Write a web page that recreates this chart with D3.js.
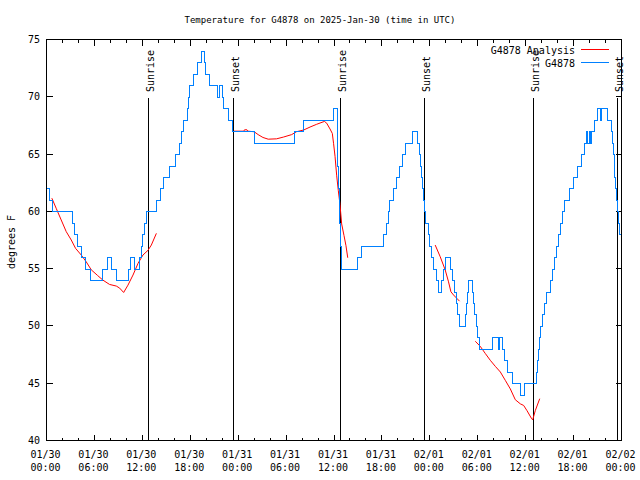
<!DOCTYPE html>
<html>
<head>
<meta charset="utf-8">
<script src="https://cdn.jsdelivr.net/npm/d3@7/dist/d3.min.js"></script>
<style>
  html, body { margin: 0; padding: 0; background: #fff; }
  svg { display: block; }
  text { font-family: "DejaVu Sans Mono", monospace; font-size: 10px; fill: #000; }
</style>
</head>
<body>
<svg id="chart" width="640" height="480"></svg>
<script>
// ---------- DATA (hours after 2025-01-30 00:00 UTC, degrees F) ----------
const titleText = "Temperature for G4878 on 2025-Jan-30 (time in UTC)";
const yLabelText = "degrees F";
const yTickValues = [40, 45, 50, 55, 60, 65, 70, 75];

// Observed G4878 temperature (integer steps): [hour, value at/after that hour]
const stationHours = [0.0,0.35,0.8,3.25,3.55,3.9,4.35,4.9,5.55,7.05,7.6,8.2,8.75,10.25,10.5,11.05,11.6,11.85,12.05,12.3,12.55,13.75,14.25,14.6,15.4,16.1,16.65,16.9,17.15,17.6,17.75,17.95,18.35,18.95,19.4,19.8,19.95,20.35,21.35,21.7,22.0,22.2,22.8,23.3,26.1,31.1,32.2,35.9,36.4,36.5,36.6,36.7,36.8,36.9,38.95,39.4,42.25,42.55,42.8,43.0,43.5,43.85,44.2,44.55,44.9,45.8,46.5,46.7,46.85,47.0,47.1,47.25,47.35,47.5,47.8,48.0,48.2,48.4,48.85,49.05,49.5,49.7,49.9,50.6,50.85,51.1,51.3,51.45,51.7,52.45,52.55,52.7,52.85,53.3,53.45,53.6,53.8,54.0,54.25,55.85,56.55,56.75,57.05,57.4,57.7,58.35,59.4,59.9,61.4,61.5,61.6,61.7,61.8,62.1,62.3,62.6,63.15,63.35,63.6,63.85,64.15,64.4,64.65,64.85,65.5,66.0,66.45,67.0,67.4,67.65,67.8,67.95,68.1,68.25,68.65,69.0,69.4,69.55,70.2,70.7,70.85,71.0,71.15,71.3,71.4,71.5,71.65,71.8,71.9];
const stationTemps = [62,61,60,59,58,57,56,55,54,55,56,55,54,55,56,55,56,57,58,59,60,61,62,63,64,65,66,67,68,69,70,71,72,73,74,73,72,71,70,71,70,69,68,67,66,67,68,69,67,64,62,59,57,55,56,57,58,59,60,61,62,63,64,65,66,67,66,65,64,63,62,61,60,59,58,57,56,55,54,53,54,55,56,55,54,53,52,51,50,51,52,53,54,53,52,51,50,49,48,49,48,49,48,47,46,45,44,45,46,47,48,49,50,51,52,53,54,55,56,57,58,59,60,61,62,63,64,65,66,67,66,67,66,67,68,69,68,69,68,67,66,65,63,62,61,60,59,58,58];

// Analysis (red) segments
const analysis1Hours = [0.67,1.21,1.84,2.47,3.1,3.64,4.35,4.97,5.6,6.4,7.06,7.9,8.74,9.16,9.66,10.2,10.83,11.46,12.08,12.71,13.13,13.76];
const analysis1Temps = [61.15,60.27,59.25,58.23,57.5,56.77,56.19,55.6,54.9,54.4,54.0,53.62,53.48,53.3,52.92,53.56,54.44,55.46,56.19,56.6,57.06,58.08];
const analysis2Hours = [23.45,24.7,24.8,25.1,25.2,26.0,26.5,27.1,27.76,28.8,29.65,30.7,31.3,32.2,33.0,33.83,34.8,35.08,35.5,35.79,35.95,36.13,36.34,36.54,36.75,36.96,37.25,37.5,37.72];
const analysis2Temps = [67.0,67.0,67.12,67.12,67.0,66.95,66.7,66.45,66.3,66.33,66.48,66.7,66.95,67.1,67.36,67.6,67.85,67.7,67.19,66.8,65.9,64.8,63.1,61.8,60.6,58.9,57.9,57.0,55.95];
const analysis3Hours = [48.67,49.3,49.92,50.34,50.64,50.97,51.39,51.72];
const analysis3Temps = [57.06,56.04,54.9,53.85,52.98,52.7,52.4,52.16];
const analysis4Hours = [53.69,54.3,54.94,55.57,56.2,56.83,57.45,58.08,58.7,59.33,59.75,60.17,60.71,60.88,61.2,61.76];
const analysis4Temps = [48.66,48.23,47.6,47.0,46.47,45.98,45.25,44.5,43.56,43.2,43.06,42.6,41.95,41.8,42.6,43.65];

// Sun events
const sunLabels = ["Sunrise","Sunset","Sunrise","Sunset","Sunrise","Sunset"];
const sunHours = [12.71,23.37,36.79,47.33,60.88,71.46];

const legendLabels = ["G4878 Analysis", "G4878"];
const seriesColors = ["#ff0000", "#0080ff"];

// ---------- DRAW ----------
const start = Date.UTC(2025, 0, 30);
const T = h => new Date(start + h * 3600e3);

const L = 46.5, R = 621.5, TOP = 39.5, BOT = 440.5;
const svg = d3.select("#chart");

const x = d3.scaleUtc().domain([T(0), T(72)]).range([L, R]);
const y = d3.scaleLinear().domain([40, 75]).range([BOT, TOP]);

const majorTicks = d3.utcHour.every(6).range(T(0), T(72.01));
const minorTicks = d3.utcHour.every(2).range(T(0), T(72.01)).filter(d => d.getUTCHours() % 6 !== 0);

// title
svg.append("text").attr("x", 320).attr("y", 23).attr("text-anchor", "middle")
  .style("font-size", "9px").text(titleText);

// y label
svg.append("text").attr("transform", "translate(15,242) rotate(-90)")
  .attr("text-anchor", "middle").text(yLabelText);

function cleanAxis(g) {
  g.select(".domain").remove();
  g.selectAll(".tick line").attr("stroke", "#000").attr("shape-rendering", "crispEdges");
}

// bottom & top axes
svg.append("g").attr("transform", `translate(0,${BOT})`)
  .call(d3.axisBottom(x).tickValues(majorTicks).tickSize(-6).tickFormat("").offset(0)).call(cleanAxis);
svg.append("g").attr("transform", `translate(0,${BOT})`)
  .call(d3.axisBottom(x).tickValues(minorTicks).tickSize(-3).tickFormat("").offset(0)).call(cleanAxis);
svg.append("g").attr("transform", `translate(0,${TOP})`)
  .call(d3.axisTop(x).tickValues(majorTicks).tickSize(-6).tickFormat("").offset(0)).call(cleanAxis);
svg.append("g").attr("transform", `translate(0,${TOP})`)
  .call(d3.axisTop(x).tickValues(minorTicks).tickSize(-3).tickFormat("").offset(0)).call(cleanAxis);

// left & right axes
svg.append("g").attr("transform", `translate(${L},0)`)
  .call(d3.axisLeft(y).tickValues(yTickValues).tickSize(-6).tickPadding(6.5).tickFormat(d3.format("d")).offset(0))
  .call(cleanAxis)
  .call(g => g.selectAll("text").attr("font-family", "DejaVu Sans Mono").attr("font-size", 10).attr("fill", "#000").attr("dy", "0.35em"));
svg.append("g").attr("transform", `translate(${R},0)`)
  .call(d3.axisRight(y).tickValues(yTickValues).tickSize(-6).tickFormat("").offset(0)).call(cleanAxis);

// x tick labels (two lines)
const fDate = d3.utcFormat("%m/%d"), fTime = d3.utcFormat("%H:%M");
const xl = svg.append("g");
xl.selectAll("text.d").data(majorTicks).join("text").attr("class", "d")
  .attr("x", d => x(d) - 1).attr("y", 457.5).attr("text-anchor", "middle").text(fDate);
xl.selectAll("text.t").data(majorTicks).join("text").attr("class", "t")
  .attr("x", d => x(d) - 1).attr("y", 470.5).attr("text-anchor", "middle").text(fTime);

// sunrise / sunset lines
const sun = sunHours.map((h, i) => ({ t: T(h), label: sunLabels[i] }));
svg.append("g").selectAll("line").data(sun).join("line")
  .attr("x1", d => Math.round(x(d.t)) + 0.5).attr("x2", d => Math.round(x(d.t)) + 0.5)
  .attr("y1", 98).attr("y2", BOT).attr("stroke", "#000").attr("stroke-width", 1)
  .attr("shape-rendering", "crispEdges");
svg.append("g").selectAll("text").data(sun).join("text")
  .attr("transform", d => `translate(${Math.round(x(d.t)) + 6},92) rotate(-90)`)
  .attr("text-anchor", "start").text(d => d.label);

// series
const line = d3.line().x(d => x(T(d[0]))).y(d => y(d[1]));
const zip = (a, b) => a.map((v, i) => [v, b[i]]);
const analysisSegs = [
  zip(analysis1Hours, analysis1Temps),
  zip(analysis2Hours, analysis2Temps),
  zip(analysis3Hours, analysis3Temps),
  zip(analysis4Hours, analysis4Temps)
];
svg.append("g").selectAll("path").data(analysisSegs).join("path")
  .attr("d", line).attr("fill", "none").attr("stroke", seriesColors[0]).attr("stroke-width", 1);

const stepLine = d3.line().curve(d3.curveStepAfter).x(d => x(T(d[0]))).y(d => Math.round(y(d[1])) + 0.5);
svg.append("path").datum(zip(stationHours, stationTemps))
  .attr("d", stepLine).attr("fill", "none").attr("stroke", seriesColors[1]).attr("stroke-width", 1)
  .attr("shape-rendering", "crispEdges");

// frame
svg.append("rect").attr("x", L).attr("y", TOP).attr("width", R - L).attr("height", BOT - TOP)
  .attr("fill", "none").attr("stroke", "#000").attr("stroke-width", 1).attr("shape-rendering", "crispEdges");

// legend
const leg = svg.append("g");
legendLabels.forEach((lab, i) => {
  const yy = 49.5 + i * 13;
  leg.append("text").attr("x", 575).attr("y", yy + 4).attr("text-anchor", "end").text(lab);
  leg.append("line").attr("x1", 581).attr("x2", 609).attr("y1", yy).attr("y2", yy)
    .attr("stroke", seriesColors[i]).attr("stroke-width", 1).attr("shape-rendering", "crispEdges");
});
</script>
</body>
</html>
